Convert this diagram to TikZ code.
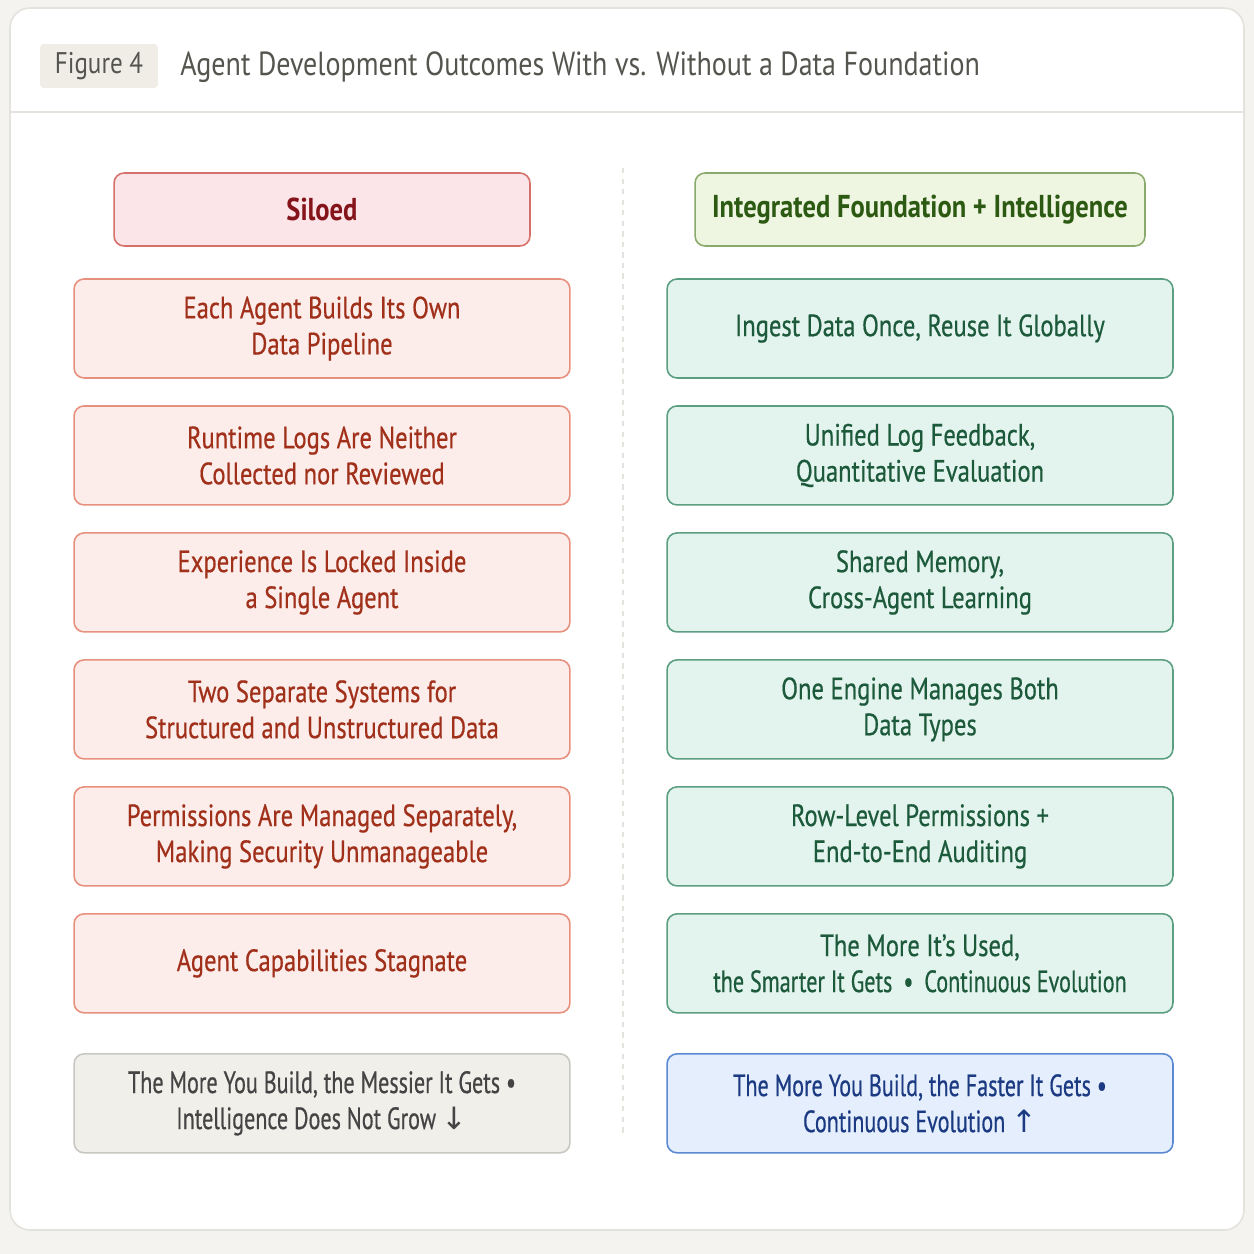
\documentclass[tikz,border=0pt]{standalone}
\usepackage{fontspec}
\setmainfont{PT Sans}[FakeStretch=0.84]
\newfontfamily\cellfont{PT Sans}[FakeStretch=0.8, FakeBold=0.5]
\newfontfamily\narrowfont{PT Sans}[FakeStretch=0.72, FakeBold=0.5]
\newfontfamily\symfont{DejaVu Sans}
\usetikzlibrary{positioning}
\definecolor{pagebg}{HTML}{F4F3EF}
\definecolor{cardline}{HTML}{E4E2DC}
\definecolor{tagfill}{HTML}{EFEDE6}
\definecolor{titlegray}{HTML}{55554F}
\definecolor{redfill}{HTML}{FCECEA}
\definecolor{redline}{HTML}{E8907E}
\definecolor{redtext}{HTML}{A0301A}
\definecolor{hdrredfill}{HTML}{FBE5E8}
\definecolor{hdrredline}{HTML}{D6706A}
\definecolor{hdrredtext}{HTML}{85141A}
\definecolor{greenfill}{HTML}{E3F4EE}
\definecolor{greenline}{HTML}{5C9E82}
\definecolor{greentext}{HTML}{1D5A3B}
\definecolor{hdrgreenfill}{HTML}{EEF5E0}
\definecolor{hdrgreenline}{HTML}{8AAA6C}
\definecolor{hdrgreentext}{HTML}{2C5A12}
\definecolor{grayfill}{HTML}{F0EFEA}
\definecolor{grayline}{HTML}{C9C7C1}
\definecolor{graytext}{HTML}{444444}
\definecolor{bluefill}{HTML}{E4EEFC}
\definecolor{blueline}{HTML}{5B8AD2}
\definecolor{bluetext}{HTML}{1B3A82}
\tikzset{
  cell/.style={draw, rounded corners=0.2cm, align=center, line width=0.9pt, outer sep=0pt,
    minimum height=1.98cm, font=\cellfont\fontsize{17.5}{20.5}\selectfont},
  lcell/.style={cell, fill=redfill, draw=redline, text=redtext, minimum width=9.92cm},
  rcell/.style={cell, fill=greenfill, draw=greenline, text=greentext, minimum width=10.12cm},
  outcell/.style={cell, font=\narrowfont\fontsize{17.5}{20.5}\selectfont},
  hdr/.style={draw, rounded corners=0.2cm, align=center, line width=0.9pt, outer sep=0pt,
    minimum height=1.46cm, font=\fontsize{18}{21}\selectfont\bfseries},
}
\begin{document}
\begin{tikzpicture}[x=0.02cm, y=-0.02cm, node distance=0.56cm]
% page and card
\fill[pagebg] (0,0) rectangle (1254,1254);
\useasboundingbox (0,0) rectangle (1254,1254);
\filldraw[fill=white, draw=cardline, line width=0.9pt, rounded corners=0.4cm] (10,8) rectangle (1244,1230);
\draw[cardline, line width=0.9pt] (10,112) -- (1244,112);
% header
\node[fill=tagfill, rounded corners=0.08cm, minimum width=2.36cm, minimum height=0.88cm,
  text=titlegray, font=\fontsize{17}{20}\selectfont] (tag) at (99,66) {Figure 4};
\node[anchor=west, text=titlegray, inner sep=0pt, font=\fontsize{19}{22}\selectfont] (title) at (180,67)
  {Agent Development Outcomes With vs. Without a Data Foundation};
% divider
\draw[dashed, cardline, line width=0.9pt] (623,168) -- (623,1135);
% left column
\node[hdr, fill=hdrredfill, draw=hdrredline, text=hdrredtext, minimum width=8.32cm] (siloed) at (322,209.5) {Siloed};
\node[lcell, below=0.66cm of siloed] (l1) {Each Agent Builds Its Own\\Data Pipeline};
\node[lcell, below=of l1] (l2) {Runtime Logs Are Neither\\Collected nor Reviewed};
\node[lcell, below=of l2] (l3) {Experience Is Locked Inside\\a Single Agent};
\node[lcell, below=of l3] (l4) {Two Separate Systems for\\Structured and Unstructured Data};
\node[lcell, below=of l4] (l5) {Permissions Are Managed Separately,\\Making Security Unmanageable};
\node[lcell, below=of l5] (l6) {Agent Capabilities Stagnate};
\node[outcell, fill=grayfill, draw=grayline, text=graytext, minimum width=9.92cm, below=0.82cm of l6] (lout)
  {The More You Build, the Messier It Gets \textbullet\\Intelligence Does Not Grow {\symfont ↓}};
% right column
\node[hdr, fill=hdrgreenfill, draw=hdrgreenline, text=hdrgreentext, minimum width=9cm] (integ) at (920,209.5) {Integrated Foundation + Intelligence};
\node[rcell, below=0.66cm of integ] (r1) {Ingest Data Once, Reuse It Globally};
\node[rcell, below=of r1] (r2) {Unified Log Feedback,\\Quantitative Evaluation};
\node[rcell, below=of r2] (r3) {Shared Memory,\\Cross-Agent Learning};
\node[rcell, below=of r3] (r4) {One Engine Manages Both\\Data Types};
\node[rcell, below=of r4] (r5) {Row-Level Permissions +\\End-to-End Auditing};
\node[rcell, below=of r5] (r6) {The More It’s Used,\\{\narrowfont the Smarter It Gets \,\textbullet\, Continuous Evolution}};
\node[outcell, fill=bluefill, draw=blueline, text=bluetext, minimum width=10.12cm, below=0.82cm of r6] (rout)
  {The More You Build, the Faster It Gets \textbullet\\Continuous Evolution {\symfont ↑}};
\end{tikzpicture}
\end{document}
